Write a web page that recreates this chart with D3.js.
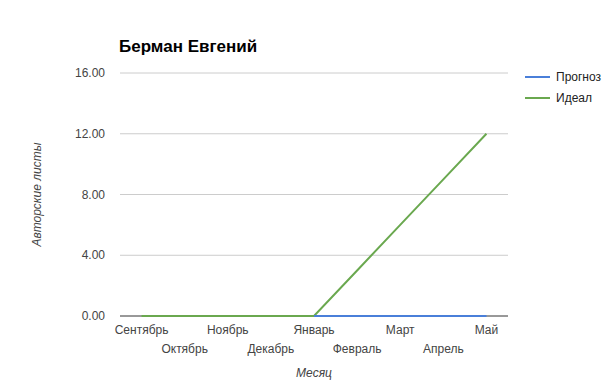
<!DOCTYPE html>
<html>
<head>
<meta charset="utf-8">
<script src="https://cdn.jsdelivr.net/npm/d3@7"></script>
<style>
  body { margin: 0; background: #fff; }
  text { font-family: Arial, "Liberation Sans", sans-serif; }
</style>
</head>
<body>
<div id="chart"></div>
<script>
// Data
var months = ["Сентябрь", "Октябрь", "Ноябрь", "Декабрь", "Январь", "Февраль", "Март", "Апрель", "Май"];
var prognoz = [null, null, null, null, 0, 0, 0, 0, 0];
var ideal = [0, 0, 0, 0, 0, 3, 6, 9, 12];
var yTicks = [0, 4, 8, 12, 16];
var seriesNames = ["Прогноз", "Идеал"];
var seriesColors = ["#4a7fd9", "#6aa84f"];

var margin = { top: 73, right: 97, bottom: 68, left: 120 },
  width = 605 - margin.left - margin.right,
  height = 384 - margin.top - margin.bottom;

var svg = d3
  .select("#chart")
  .append("svg")
  .attr("width", 605)
  .attr("height", 384);

var g = svg.append("g")
  .attr("transform", "translate(" + margin.left + "," + margin.top + ")");

var x = d3.scaleBand().domain(months).range([0, width]);
var y = d3.scaleLinear().domain([0, 16]).range([height, 0]);

// gridlines
g.selectAll(".grid")
  .data(yTicks.filter(function (d) { return d > 0; }))
  .enter()
  .append("line")
  .attr("x1", 0)
  .attr("x2", width)
  .attr("y1", function (d) { return y(d); })
  .attr("y2", function (d) { return y(d); })
  .attr("stroke", "#cccccc")
  .attr("stroke-width", 1);

// baseline
g.append("line")
  .attr("x1", 0)
  .attr("x2", width)
  .attr("y1", y(0))
  .attr("y2", y(0))
  .attr("stroke", "#333")
  .attr("stroke-width", 1);

// y labels
g.selectAll(".ylab")
  .data(yTicks)
  .enter()
  .append("text")
  .attr("x", -15)
  .attr("y", function (d) { return y(d); })
  .attr("dy", "0.35em")
  .attr("text-anchor", "end")
  .attr("font-size", 12)
  .attr("fill", "#444")
  .text(function (d) { return d.toFixed(2); });

// x labels (staggered)
g.selectAll(".xlab")
  .data(months)
  .enter()
  .append("text")
  .attr("x", function (d) { return x(d) + x.bandwidth() / 2; })
  .attr("y", function (d, i) { return height + (i % 2 === 0 ? 18 : 37); })
  .attr("text-anchor", "middle")
  .attr("font-size", 12)
  .attr("fill", "#444")
  .text(function (d) { return d; });

// lines
var line = d3.line()
  .defined(function (d) { return d.v !== null; })
  .x(function (d) { return x(d.m) + x.bandwidth() / 2; })
  .y(function (d) { return y(d.v); });

function toPts(arr) {
  return arr.map(function (v, i) { return { m: months[i], v: v }; });
}

g.append("path")
  .datum(toPts(ideal))
  .attr("fill", "none")
  .attr("stroke", seriesColors[1])
  .attr("stroke-width", 2)
  .attr("d", line);

g.append("path")
  .datum(toPts(prognoz))
  .attr("fill", "none")
  .attr("stroke", seriesColors[0])
  .attr("stroke-width", 2)
  .attr("d", line);

// title
svg.append("text")
  .attr("x", 119)
  .attr("y", 52)
  .attr("font-size", 17)
  .attr("font-weight", "bold")
  .attr("fill", "#000")
  .text("Берман Евгений");

// axis titles
svg.append("text")
  .attr("transform", "translate(41," + (margin.top + height / 2) + ") rotate(-90)")
  .attr("text-anchor", "middle")
  .attr("font-size", 12)
  .attr("font-style", "italic")
  .attr("fill", "#444")
  .text("Авторские листы");

svg.append("text")
  .attr("x", margin.left + width / 2)
  .attr("y", 377)
  .attr("text-anchor", "middle")
  .attr("font-size", 12)
  .attr("font-style", "italic")
  .attr("fill", "#444")
  .text("Месяц");

// legend
var legend = svg.selectAll(".legend")
  .data(seriesNames)
  .enter()
  .append("g")
  .attr("transform", function (d, i) { return "translate(525," + (77 + i * 21) + ")"; });

legend.append("line")
  .attr("x1", 0)
  .attr("x2", 25)
  .attr("stroke", function (d, i) { return seriesColors[i]; })
  .attr("stroke-width", 2);

legend.append("text")
  .attr("x", 31)
  .attr("dy", "0.35em")
  .attr("font-size", 12)
  .attr("fill", "#222")
  .text(function (d) { return d; });
</script>
</body>
</html>
